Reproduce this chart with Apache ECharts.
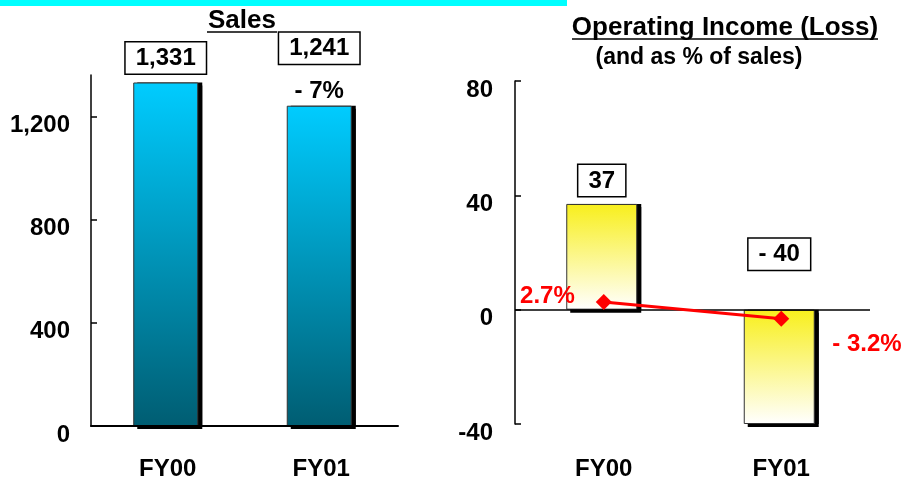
<!DOCTYPE html>
<html>
<head>
<meta charset="utf-8">
<script src="https://cdn.jsdelivr.net/npm/echarts@6/dist/echarts.min.js"></script>
<style>
  html, body { margin: 0; padding: 0; background: #fff; }
  #view { width: 906px; height: 477px; }
</style>
</head>
<body>
<div id="view"></div>
<script>
// data
let years = ["FY00", "FY01"];
let sales = [1331, 1241];
let salesLabels = ["1,331", "1,241"];
let salesChange = ["", "- 7%"];
let salesTicks = [0, 400, 800, 1200];

let income = [37, -40];
let incomeLabels = ["37", "- 40"];
let incomePct = [2.7, -3.2];
let incomePctLabels = ["2.7%", "- 3.2%"];

let font = "Liberation Sans, Arial, sans-serif";

let myChart = echarts.init(document.getElementById("view"), null, { renderer: "canvas" });

let boxStyle = {
  color: "#000",
  fontFamily: font,
  fontWeight: "bold",
  fontSize: 24,
  backgroundColor: "#fff",
  borderColor: "#000",
  borderWidth: 1.5,
  padding: [4, 10, 3, 10],
};

let salesData = sales.map((v, i) => {
  let txt = "{box|" + salesLabels[i] + "}";
  if (salesChange[i]) {
    txt += "\n{pct|" + salesChange[i] + "}";
  }
  return { value: v, label: { formatter: txt, distance: salesChange[i] ? 2 : 9 } };
});

let incomeData = income.map((v, i) => {
  return {
    value: v,
    label: {
      formatter: "{box|" + incomeLabels[i] + "}",
      position: "top",
      distance: v < 0 ? 40 : 8,
    },
  };
});

let pctData = incomePct.map((v, i) => {
  let lbl = i == 0
    ? { position: "left", distance: 21, offset: [0, -6] }
    : { position: "right", distance: 43, offset: [0, 26] };
  lbl.formatter = incomePctLabels[i];
  return { value: v, label: lbl };
});

let axisLabelStyle = {
  color: "#000",
  fontFamily: font,
  fontWeight: "bold",
  fontSize: 24,
};

// y labels sit a bit below their ticks
let yLabelRich = {
  n: {
    color: "#000",
    fontFamily: font,
    fontWeight: "bold",
    fontSize: 24,
    padding: [18, 0, 0, 0],
  },
};

let shadowStyle = {
  color: "#000",
  shadowColor: "#000",
  shadowBlur: 0,
  shadowOffsetY: 3,
};

let option = {
  animation: false,
  backgroundColor: "#fff",
  graphic: [
    { type: "rect", shape: { x: 0, y: 0, width: 567, height: 6 }, style: { fill: "#00ffff" } },
    { type: "text", x: 242, y: 21, style: { text: "Sales", font: "bold 26px " + font, fill: "#000", align: "center", verticalAlign: "middle" } },
    { type: "line", shape: { x1: 207, y1: 32, x2: 277, y2: 32 }, style: { stroke: "#000", lineWidth: 1.5 } },
    { type: "text", x: 725, y: 28, style: { text: "Operating Income (Loss)", font: "bold 26px " + font, fill: "#000", align: "center", verticalAlign: "middle" } },
    { type: "line", shape: { x1: 572, y1: 39, x2: 878, y2: 39 }, style: { stroke: "#000", lineWidth: 1.5 } },
    { type: "text", x: 699, y: 58, style: { text: "(and as % of sales)", font: "bold 23px " + font, fill: "#000", align: "center", verticalAlign: "middle" } },
  ],
  grid: [
    { left: 91, top: 75, width: 307, height: 351, containLabel: false, outerBoundsMode: "none" },
    { left: 515, top: 81, width: 355, height: 343, containLabel: false, outerBoundsMode: "none" },
  ],
  xAxis: [
    {
      gridIndex: 0,
      type: "category",
      data: years,
      axisLine: { lineStyle: { color: "#000", width: 2 } },
      axisTick: { show: false },
      axisLabel: Object.assign({ margin: 31 }, axisLabelStyle),
      z: 5,
    },
    {
      gridIndex: 1,
      type: "category",
      data: years,
      axisLine: { show: false, onZero: false },
      axisTick: { show: false },
      axisLabel: Object.assign({ margin: 33 }, axisLabelStyle),
    },
  ],
  yAxis: [
    {
      gridIndex: 0,
      type: "value",
      min: 0,
      max: 1360,
      axisLine: { show: true, lineStyle: { color: "#000", width: 1.5 } },
      axisTick: { show: true, inside: true, length: 6, customValues: salesTicks, lineStyle: { color: "#000", width: 1.5 } },
      axisLabel: {
        margin: 21,
        customValues: salesTicks,
        formatter: (v) => "{n|" + v.toLocaleString("en-US") + "}",
        rich: yLabelRich,
      },
      splitLine: { show: false },
    },
    {
      gridIndex: 1,
      type: "value",
      min: -40,
      max: 80,
      interval: 40,
      axisLine: { show: true, onZero: false, lineStyle: { color: "#000", width: 1.5 } },
      axisTick: { show: true, inside: true, length: 6, lineStyle: { color: "#000", width: 1.5 } },
      axisLabel: {
        margin: 22,
        formatter: (v) => "{n|" + v + "}",
        rich: yLabelRich,
      },
      splitLine: { show: false },
    },
  ],
  series: [
    {
      name: "Sales",
      type: "bar",
      xAxisIndex: 0,
      yAxisIndex: 0,
      barWidth: 65,
      barGap: "-93.8%",
      z: 3,
      data: salesData,
      itemStyle: {
        color: new echarts.graphic.LinearGradient(0, 0, 0, 1, [
          { offset: 0, color: "#00ccff" },
          { offset: 1, color: "#005d72" },
        ]),
        borderColor: "#333",
        borderWidth: 1,
      },
      label: {
        show: true,
        position: "top",
        align: "center",
        rich: {
          box: boxStyle,
          pct: {
            color: "#000",
            fontFamily: font,
            fontWeight: "bold",
            fontSize: 24,
            padding: [16, 0, 0, 0],
          },
        },
      },
    },
    {
      name: "Sales shadow",
      type: "bar",
      xAxisIndex: 0,
      yAxisIndex: 0,
      barWidth: 65,
      barGap: "-93.8%",
      z: 2,
      silent: true,
      data: sales,
      itemStyle: shadowStyle,
    },
    {
      name: "Operating Income",
      type: "bar",
      xAxisIndex: 1,
      yAxisIndex: 1,
      barWidth: 71,
      barGap: "-94.4%",
      z: 3,
      data: incomeData,
      itemStyle: {
        color: new echarts.graphic.LinearGradient(0, 0, 0, 1, [
          { offset: 0, color: "#f8ef1c" },
          { offset: 1, color: "#ffffff" },
        ]),
        borderColor: "#333",
        borderWidth: 1,
      },
      label: {
        show: true,
        rich: { box: boxStyle },
      },
      markLine: {
        silent: true,
        symbol: "none",
        label: { show: false },
        lineStyle: { color: "#000", type: "solid", width: 1.5 },
        data: [{ yAxis: 0 }],
      },
    },
    {
      name: "Operating Income shadow",
      type: "bar",
      xAxisIndex: 1,
      yAxisIndex: 1,
      barWidth: 71,
      barGap: "-94.4%",
      z: 2,
      silent: true,
      data: income,
      itemStyle: shadowStyle,
    },
    {
      name: "% of sales",
      type: "line",
      xAxisIndex: 1,
      yAxisIndex: 1,
      data: pctData,
      symbol: "diamond",
      symbolSize: 16,
      lineStyle: { color: "#ff0000", width: 3 },
      itemStyle: { color: "#ff0000" },
      label: {
        show: true,
        color: "#ff0000",
        fontFamily: font,
        fontWeight: "bold",
        fontSize: 24,
      },
      z: 5,
    },
  ],
};
myChart.setOption(option);
</script>
</body>
</html>
